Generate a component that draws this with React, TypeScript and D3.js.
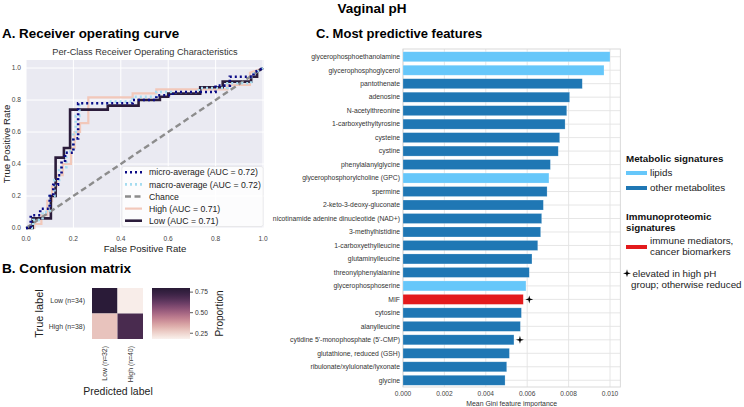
import React from "react";
import * as d3 from "d3";

// ---------- Data ----------
const lowFpr = [0, 0.028, 0.028, 0.105, 0.105, 0.125, 0.125, 0.16, 0.16, 0.186, 0.186, 0.345, 0.345, 0.475, 0.475, 0.565, 0.565, 0.6, 0.6, 0.735, 0.735, 0.83, 0.83, 0.95, 0.95, 0.975, 0.975, 1];
const lowTpr = [0, 0, 0.06, 0.06, 0.2, 0.2, 0.44, 0.44, 0.5, 0.5, 0.74, 0.74, 0.765, 0.765, 0.8, 0.8, 0.82, 0.82, 0.84, 0.84, 0.88, 0.88, 0.915, 0.915, 0.945, 0.945, 0.975, 1];
const highFpr = [0, 0.035, 0.035, 0.065, 0.065, 0.09, 0.09, 0.11, 0.11, 0.13, 0.13, 0.155, 0.155, 0.19, 0.19, 0.205, 0.205, 0.228, 0.228, 0.263, 0.263, 0.45, 0.45, 0.55, 0.55, 0.85, 0.85, 0.945, 0.945, 1];
const highTpr = [0, 0, 0.025, 0.025, 0.08, 0.08, 0.17, 0.17, 0.26, 0.26, 0.33, 0.33, 0.4, 0.4, 0.5, 0.5, 0.6, 0.6, 0.656, 0.656, 0.817, 0.817, 0.842, 0.842, 0.867, 0.867, 0.894, 0.894, 0.97, 1];
const microFpr = [0, 0.02, 0.02, 0.06, 0.06, 0.1, 0.1, 0.115, 0.115, 0.135, 0.135, 0.15, 0.15, 0.165, 0.165, 0.2, 0.2, 0.22, 0.22, 0.45, 0.45, 0.55, 0.55, 0.62, 0.62, 0.8, 0.8, 0.86, 0.86, 0.96, 0.96, 1];
const microTpr = [0, 0, 0.08, 0.08, 0.12, 0.12, 0.2, 0.2, 0.27, 0.27, 0.33, 0.33, 0.42, 0.42, 0.47, 0.47, 0.56, 0.56, 0.78, 0.78, 0.8, 0.8, 0.83, 0.83, 0.85, 0.85, 0.89, 0.89, 0.945, 0.945, 0.97, 1];
const macroFpr = [0, 0.03, 0.03, 0.07, 0.07, 0.1, 0.1, 0.12, 0.12, 0.14, 0.14, 0.17, 0.17, 0.2, 0.2, 0.21, 0.21, 0.225, 0.225, 0.35, 0.35, 0.45, 0.45, 0.55, 0.55, 0.73, 0.73, 0.85, 0.85, 0.95, 0.95, 1];
const macroTpr = [0, 0, 0.05, 0.05, 0.1, 0.1, 0.2, 0.2, 0.3, 0.3, 0.38, 0.38, 0.48, 0.48, 0.6, 0.6, 0.7, 0.7, 0.78, 0.78, 0.79, 0.79, 0.82, 0.82, 0.85, 0.85, 0.875, 0.875, 0.905, 0.905, 0.955, 1];
const rocTicks = [0, 0.2, 0.4, 0.6, 0.8, 1.0];

const cmTrue = ["Low (n=34)", "High (n=38)"];
const cmPred = ["Low (n=32)", "High (n=40)"];
const cmValues = [
  [0.79, 0.19],
  [0.29, 0.69],
];
const cbTicks = [0.25, 0.5, 0.75];

const features = [
  "glycerophosphoethanolamine",
  "glycerophosphoglycerol",
  "pantothenate",
  "adenosine",
  "N-acetylthreonine",
  "1-carboxyethyltyrosine",
  "cysteine",
  "cystine",
  "phenylalanylglycine",
  "glycerophosphorylcholine (GPC)",
  "spermine",
  "2-keto-3-deoxy-gluconate",
  "nicotinamide adenine dinucleotide (NAD+)",
  "3-methylhistidine",
  "1-carboxyethylleucine",
  "glutaminylleucine",
  "threonylphenylalanine",
  "glycerophosphoserine",
  "MIF",
  "cytosine",
  "alanylleucine",
  "cytidine 5'-monophosphate (5'-CMP)",
  "glutathione, reduced (GSH)",
  "ribulonate/xylulonate/lyxonate",
  "glycine",
];
const importance = [0.0100, 0.00971, 0.00866, 0.00805, 0.00791, 0.00783, 0.00757, 0.0075, 0.00712, 0.00705, 0.00696, 0.00678, 0.0067, 0.00665, 0.00651, 0.00623, 0.0061, 0.00594, 0.00581, 0.00572, 0.00567, 0.00536, 0.00514, 0.00501, 0.00493];
const featureGroup = ["lipid", "lipid", "other", "other", "other", "other", "other", "other", "other", "lipid", "other", "other", "other", "other", "other", "other", "other", "lipid", "immune", "other", "other", "other", "other", "other", "other"];
const elevated = ["MIF", "cytidine 5'-monophosphate (5'-CMP)"];
const barTicks = [0, 0.002, 0.004, 0.006, 0.008, 0.01];

const FONT = "'Liberation Sans', Arial, Helvetica, sans-serif";

const groupColor: Record<string, string> = {
  lipid: "#66c7fa",
  other: "#1f77b4",
  immune: "#e31a1c",
};

const cubeStops = ["#f9f1ed", "#efd3cb", "#dfaeaa", "#c98a95", "#a96884", "#844c73", "#5c355d", "#3b2345", "#281a36"];

function starPath(cx: number, cy: number, R: number, r: number) {
  const pts: string[] = [];
  for (let i = 0; i < 8; i++) {
    const a = (Math.PI / 4) * i - Math.PI / 2;
    const rad = i % 2 === 0 ? R : r;
    pts.push(`${cx + rad * Math.cos(a)},${cy + rad * Math.sin(a)}`);
  }
  return "M" + pts.join("L") + "Z";
}

function RocPanel() {
  const x = d3.scaleLinear().domain([0, 1]).range([26, 263]);
  const y = d3.scaleLinear().domain([0, 1]).range([228, 68]);
  const top = y(1.05);
  const line = d3
    .line<[number, number]>()
    .x((d) => x(d[0]))
    .y((d) => y(d[1]));
  const zipPts = (a: number[], b: number[]) => a.map((v, i) => [v, b[i]] as [number, number]);

  const legend = [
    { label: "micro-average (AUC = 0.72)", color: "#0a0a86", dash: "2,3", w: 2.6 },
    { label: "macro-average (AUC = 0.72)", color: "#a5dcf0", dash: "2,3", w: 2.6 },
    { label: "Chance", color: "#8c8c8c", dash: "6,3.5", w: 2.4 },
    { label: "High (AUC = 0.71)", color: "#f2c8ba", dash: "", w: 2.2 },
    { label: "Low (AUC = 0.71)", color: "#2b1c3b", dash: "", w: 2.6 },
  ];

  return (
    <g>
      <text x={2} y={37.5} fontSize={13.4} fontWeight="bold" fill="#000">A. Receiver operating curve</text>
      <text x={145} y={55} fontSize={9.2} fill="#333" textAnchor="middle">Per-Class Receiver Operating Characteristics</text>
      <rect x={26} y={top} width={238} height={228 - top} fill="#eaeaf2" />
      {rocTicks.map((t) => (
        <g key={"g" + t}>
          <line x1={x(t)} x2={x(t)} y1={top} y2={228} stroke="#fff" strokeWidth={1} />
          <line x1={26} x2={264} y1={y(t)} y2={y(t)} stroke="#fff" strokeWidth={1} />
          <text x={x(t)} y={240.5} fontSize={6.6} fill="#444" textAnchor="middle">{t.toFixed(1)}</text>
          <text x={21} y={y(t) + 2.3} fontSize={6.6} fill="#444" textAnchor="end">{t.toFixed(1)}</text>
        </g>
      ))}
      <g clipPath="url(#rocclip)">
        <path d={line(zipPts(highFpr, highTpr)) || ""} fill="none" stroke="#f2c8ba" strokeWidth={2.2} />
        <path d={line(zipPts(lowFpr, lowTpr)) || ""} fill="none" stroke="#2b1c3b" strokeWidth={2.6} />
        <path d={line([[0, 0], [1, 1]]) || ""} fill="none" stroke="#8c8c8c" strokeWidth={2.4} strokeDasharray="6,3.5" />
        <path d={line(zipPts(macroFpr, macroTpr)) || ""} fill="none" stroke="#a5dcf0" strokeWidth={2.6} strokeDasharray="2,3" />
        <path d={line(zipPts(microFpr, microTpr)) || ""} fill="none" stroke="#0a0a86" strokeWidth={2.6} strokeDasharray="2,3" />
      </g>
      <defs>
        <clipPath id="rocclip">
          <rect x={24} y={top - 2} width={242} height={230 - top + 2} />
        </clipPath>
      </defs>
      <rect x={122} y={166.5} width={141} height={60} rx={2} fill="#fff" fillOpacity={0.85} stroke="#dddddd" strokeWidth={0.5} />
      {legend.map((l, i) => {
        const ly = 172.3 + i * 12.1;
        return (
          <g key={l.label}>
            <line x1={125} x2={142} y1={ly} y2={ly} stroke={l.color} strokeWidth={l.w} strokeDasharray={l.dash || undefined} />
            <text x={149} y={ly + 3.1} fontSize={8.7} fill="#222">{l.label}</text>
          </g>
        );
      })}
      <text x={145} y={251.5} fontSize={9.6} fill="#222" textAnchor="middle">False Positive Rate</text>
      <text transform={`translate(9.5,${(top + 228) / 2}) rotate(-90)`} fontSize={9.6} fill="#222" textAnchor="middle">True Positive Rate</text>
    </g>
  );
}

function ConfusionPanel() {
  const xb = d3.scaleBand().domain(cmPred).range([92, 143]);
  const yb = d3.scaleBand().domain(cmTrue).range([288, 339]);
  const color = d3.scaleSequential(d3.interpolateRgbBasis(cubeStops)).domain([0.18, 0.8]);
  const cb = d3.scaleLinear().domain([0.18, 0.8]).range([339, 288]);
  const stops = d3.range(0, 1.0001, 0.05);
  return (
    <g>
      <text x={2} y={273} fontSize={13.6} fontWeight="bold" fill="#000">B. Confusion matrix</text>
      {cmTrue.map((r, i) =>
        cmPred.map((c, j) => (
          <rect key={r + c} x={xb(c)} y={yb(r)} width={xb.bandwidth()} height={yb.bandwidth()} fill={color(cmValues[i][j])} />
        ))
      )}
      {cmTrue.map((r) => (
        <text key={r} x={85} y={(yb(r) || 0) + yb.bandwidth() / 2 + 2.4} fontSize={6.9} fill="#333" textAnchor="end">{r}</text>
      ))}
      {cmPred.map((c) => (
        <text key={c} transform={`translate(${(xb(c) || 0) + xb.bandwidth() / 2 + 2.4},346) rotate(-90)`} fontSize={6.9} fill="#333" textAnchor="end">{c}</text>
      ))}
      <text transform={`translate(43,313.5) rotate(-90)`} fontSize={11} fill="#222" textAnchor="middle">True label</text>
      <text x={118} y={395} fontSize={10.5} fill="#222" textAnchor="middle">Predicted label</text>
      <defs>
        <linearGradient id="cbgrad" x1="0" y1="1" x2="0" y2="0">
          {stops.map((s) => (
            <stop key={s} offset={s} stopColor={color(0.18 + s * 0.62)} />
          ))}
        </linearGradient>
      </defs>
      <rect x={152} y={288} width={38} height={51} fill="url(#cbgrad)" />
      {cbTicks.map((t) => (
        <g key={t}>
          <line x1={190} x2={193} y1={cb(t)} y2={cb(t)} stroke="#333" strokeWidth={0.8} />
          <text x={195} y={cb(t) + 2.3} fontSize={6.6} fill="#333">{t.toFixed(2)}</text>
        </g>
      ))}
      <text transform={`translate(223,313.5) rotate(-90)`} fontSize={10} fill="#222" textAnchor="middle">Proportion</text>
    </g>
  );
}

function BarPanel() {
  const x = d3.scaleLinear().domain([0, 0.01]).range([403, 610]);
  const y = d3.scaleBand().domain(features).range([50, 387]).paddingInner(0.26).paddingOuter(0.13);
  const right = x(0.0105);
  return (
    <g>
      <text x={316} y={37.5} fontSize={13} fontWeight="bold" fill="#000">C. Most predictive features</text>
      <rect x={403} y={49} width={right - 403} height={338} fill="#fff" />
      {barTicks.map((t) => (
        <g key={t}>
          <line x1={x(t)} x2={x(t)} y1={49} y2={387} stroke="#e3e3e3" strokeWidth={0.9} />
          <text x={x(t)} y={395.8} fontSize={6.6} fill="#444" textAnchor="middle">{t.toFixed(3)}</text>
        </g>
      ))}
      {features.map((f) => (
        <line key={"h" + f} x1={403} x2={right} y1={(y(f) || 0) + y.bandwidth() / 2} y2={(y(f) || 0) + y.bandwidth() / 2} stroke="#e3e3e3" strokeWidth={0.9} />
      ))}
      <rect x={403} y={49} width={right - 403} height={338} fill="none" stroke="#d6d6d6" strokeWidth={0.9} />
      {features.map((f, i) => (
        <g key={f}>
          <rect x={x(0)} y={y(f)} width={x(importance[i]) - x(0)} height={y.bandwidth()} fill={groupColor[featureGroup[i]]} stroke="#ffffff" strokeOpacity={0.35} strokeWidth={0.6} />
          <text x={400} y={(y(f) || 0) + y.bandwidth() / 2 + 2.3} fontSize={6.8} fill="#333" textAnchor="end">{f}</text>
          {elevated.includes(f) && (
            <path d={starPath(x(importance[i]) + 6, (y(f) || 0) + y.bandwidth() / 2, 4, 1.2)} fill="#000" />
          )}
        </g>
      ))}
      <text x={(403 + right) / 2} y={405.5} fontSize={6.9} fill="#333" textAnchor="middle">Mean Gini feature importance</text>
      {/* Legend */}
      <text x={626} y={161.5} fontSize={9.8} fontWeight="bold" fill="#111">Metabolic signatures</text>
      <rect x={626} y={171} width={21} height={4} fill={groupColor.lipid} />
      <text x={650} y={176} fontSize={9.8} fill="#222">lipids</text>
      <rect x={626} y={186} width={21} height={4} fill={groupColor.other} />
      <text x={650} y={191} fontSize={9.8} fill="#222">other metabolites</text>
      <text x={626} y={220} fontSize={9.8} fontWeight="bold" fill="#111">Immunoproteomic</text>
      <text x={626} y={231} fontSize={9.8} fontWeight="bold" fill="#111">signatures</text>
      <rect x={626} y={245} width={21} height={4} fill={groupColor.immune} />
      <text x={650} y={243.5} fontSize={9.8} fill="#222">immune mediators,</text>
      <text x={650} y={255} fontSize={9.8} fill="#222">cancer biomarkers</text>
      <path d={starPath(627, 273.3, 4, 1.2)} fill="#000" />
      <text x={632.5} y={276.5} fontSize={9.8} fill="#222">elevated in high pH</text>
      <text x={631} y={288} fontSize={9.8} fill="#222">group; otherwise reduced</text>
    </g>
  );
}

export default function App() {
  return (
    <svg width={744} height={407} style={{ position: "absolute", left: 0, top: 0, background: "#fff" }} fontFamily={FONT}>
      <rect width={744} height={407} fill="#fff" />
      <text x={372} y={13} fontSize={13.5} fontWeight="bold" textAnchor="middle" fill="#000">Vaginal pH</text>
      <RocPanel />
      <ConfusionPanel />
      <BarPanel />
    </svg>
  );
}
